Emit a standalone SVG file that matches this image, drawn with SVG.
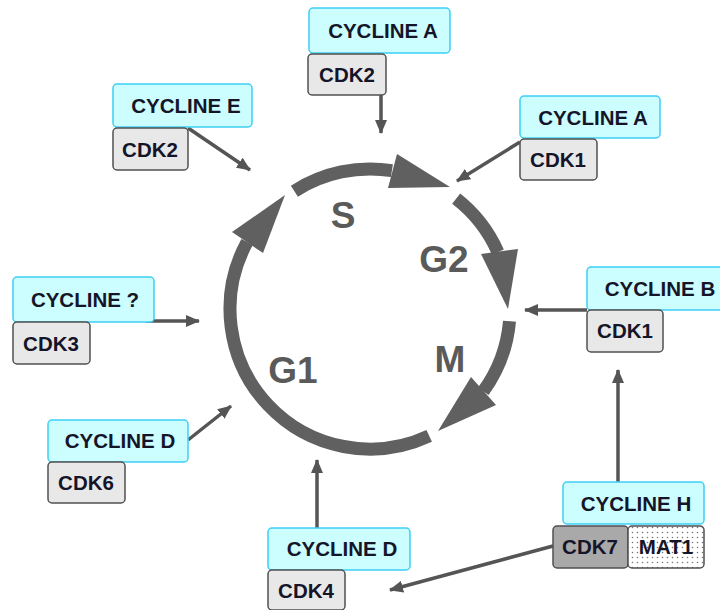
<svg xmlns="http://www.w3.org/2000/svg" width="720" height="610" viewBox="0 0 720 610">
<defs>
<style>
.cyc{fill:#ccfdff;stroke:#3cd0f5;stroke-width:1.5}
.cdk{fill:#e8e8e8;stroke:#505050;stroke-width:1.5}
.cdk7{fill:#a9a9a9;stroke:#505050;stroke-width:1.5}
.mat{fill:url(#dots);stroke:#505050;stroke-width:1.5}
.t{font-family:"Liberation Sans",Arial,sans-serif;font-weight:bold;font-size:20.5px;fill:#15152a;text-anchor:middle}
.ph{font-family:"Liberation Sans",Arial,sans-serif;font-weight:bold;font-size:37px;fill:#5a5a5a;text-anchor:middle}
.ring{fill:none;stroke:#606060;stroke-width:13}
.head{fill:#606060}
.arr{stroke:#555;stroke-width:3.5;fill:none;marker-end:url(#ah)}
</style>
<pattern id="dots" width="5" height="5" patternUnits="userSpaceOnUse">
<rect width="5" height="5" fill="#fff"/>
<circle cx="2.5" cy="2.5" r="0.8" fill="#777"/>
</pattern>
<marker id="ah" markerUnits="userSpaceOnUse" markerWidth="14" markerHeight="12" refX="13" refY="6" orient="auto">
<path d="M0,0 L14,6 L0,12 z" fill="#555"/>
</marker>
</defs>
<rect width="720" height="610" fill="#fff"/>

<g id="cycle">
<path class="ring" d="M294.4,191.2 A140,140 0 0 1 391.9,170.7"/>
<polygon class="head" points="397,154 450,187 388,188"/>
<path class="ring" d="M456.2,198.7 A140,140 0 0 1 497.9,252.1"/>
<polygon class="head" points="481,254 518,249 508,309"/>
<path class="ring" d="M509.5,321.2 A140,140 0 0 1 483.3,391.3"/>
<polygon class="head" points="471,377 496,405 438,431"/>
<path class="ring" d="M429.2,435.9 A140,140 0 0 1 247.1,242.0"/>
<polygon class="head" points="232,232 263,253 285,195"/>
<text class="ph" x="343" y="228">S</text>
<text class="ph" x="444" y="272">G2</text>
<text class="ph" x="450" y="372">M</text>
<text class="ph" x="293" y="383">G1</text>
</g>

<g id="connectors">
<line class="arr" x1="381" y1="95" x2="381" y2="133"/>
<line class="arr" x1="188" y1="128" x2="250" y2="170"/>
<line class="arr" x1="520" y1="142" x2="457" y2="181"/>
<line class="arr" x1="146" y1="321" x2="199" y2="321"/>
<line class="arr" x1="587" y1="310" x2="525" y2="310"/>
<line class="arr" x1="188" y1="440" x2="231" y2="406"/>
<line class="arr" x1="317" y1="528" x2="317" y2="460"/>
<line class="arr" x1="618" y1="482" x2="618" y2="370"/>
<line class="arr" x1="553" y1="546" x2="390" y2="590"/>
</g>

<g id="cyclinA-top">
<rect class="cyc" x="309" y="8" width="141" height="45" rx="4"/>
<text class="t" x="383" y="38">CYCLINE A</text>
<rect class="cdk" x="308" y="54" width="78" height="41" rx="4"/>
<text class="t" x="347" y="82">CDK2</text>
</g>

<g id="cyclinE">
<rect class="cyc" x="113" y="84" width="139" height="43" rx="4"/>
<text class="t" x="186" y="113">CYCLINE E</text>
<rect class="cdk" x="113" y="128" width="75" height="42" rx="4"/>
<text class="t" x="150" y="157">CDK2</text>
</g>

<g id="cyclinA-right">
<rect class="cyc" x="520" y="96" width="140" height="42" rx="4"/>
<text class="t" x="593" y="125">CYCLINE A</text>
<rect class="cdk" x="520" y="139" width="77" height="41" rx="4"/>
<text class="t" x="558" y="167">CDK1</text>
</g>

<g id="cyclin-unknown">
<rect class="cyc" x="13" y="277" width="141" height="45" rx="4"/>
<text class="t" x="85" y="307">CYCLINE ?</text>
<rect class="cdk" x="13" y="322" width="77" height="42" rx="4"/>
<text class="t" x="51" y="351">CDK3</text>
</g>

<g id="cyclinB">
<rect class="cyc" x="587" y="267" width="140" height="43" rx="4"/>
<text class="t" x="660" y="296">CYCLINE B</text>
<rect class="cdk" x="587" y="310" width="76" height="42" rx="4"/>
<text class="t" x="625" y="338">CDK1</text>
</g>

<g id="cyclinD-left">
<rect class="cyc" x="48" y="420" width="140" height="42" rx="4"/>
<text class="t" x="120" y="448">CYCLINE D</text>
<rect class="cdk" x="48" y="462" width="77" height="41" rx="4"/>
<text class="t" x="86" y="490">CDK6</text>
</g>

<g id="cyclinD-bottom">
<rect class="cyc" x="268" y="528" width="142" height="42" rx="4"/>
<text class="t" x="342" y="556">CYCLINE D</text>
<rect class="cdk" x="268" y="570" width="77" height="40" rx="4"/>
<text class="t" x="306" y="598">CDK4</text>
</g>

<g id="cyclinH">
<rect class="cyc" x="563" y="482" width="141" height="42" rx="4"/>
<text class="t" x="636" y="511">CYCLINE H</text>
<rect class="cdk7" x="553" y="526" width="75" height="42" rx="4"/>
<text class="t" x="590" y="554">CDK7</text>
<rect class="mat" x="628" y="526" width="76" height="42" rx="4"/>
<text class="t" x="666" y="554">MAT1</text>
</g>
</svg>
